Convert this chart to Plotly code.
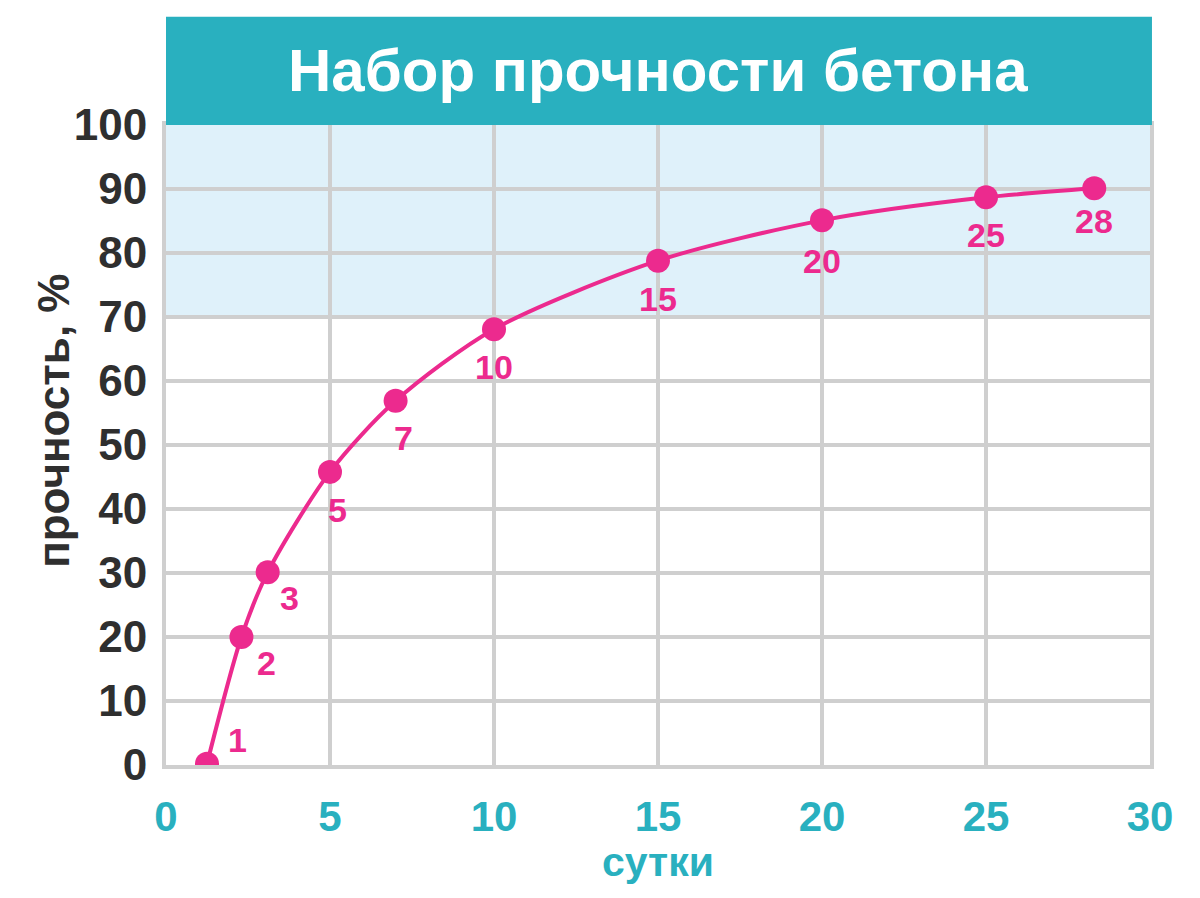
import plotly.graph_objects as go

# points (position on the day axis, strength %)
days_x = [1.25, 2.3, 3.1, 5.0, 7.0, 10.0, 15.0, 20.0, 25.0, 28.3]
strength = [0.2, 20.0, 30.1, 45.8, 56.9, 68.1, 78.8, 85.1, 88.7, 90.1]
day_labels = ['1', '2', '3', '5', '7', '10', '15', '20', '25', '28']

x_ticks = [0, 5, 10, 15, 20, 25, 30]
y_ticks = [0, 10, 20, 30, 40, 50, 60, 70, 80, 90, 100]

title_text = 'Набор прочности бетона'
x_title = 'сутки'
y_title = 'прочность, %'

# label offsets in px (x, y)
lab_shift = [(30, 24), (25, -26), (22, -26), (7, -38), (8, -37),
             (0, -38), (0, -38), (0, -41), (0, -38), (0, -33)]

teal = '#29b0bf'
pink = '#ec2a8e'
grid = '#cfcfcf'
dark = '#2f2f2f'
font = 'Liberation Sans, Arial, sans-serif'

fig = go.Figure()
fig.add_trace(go.Scatter(x=days_x, y=strength, mode='lines+markers',
                         line=dict(color=pink, width=4, shape='spline', smoothing=0.8),
                         marker=dict(color=pink, size=24),
                         showlegend=False, hoverinfo='skip'))

# light blue band 70..100
fig.add_shape(type='rect', xref='paper', yref='y', x0=0, x1=1, y0=70, y1=100,
              fillcolor='#dff1fa', line_width=0, layer='below')
# title bar
fig.add_shape(type='rect', xref='paper', yref='paper', x0=0, x1=1.002, y0=1.0, y1=1.169,
              fillcolor=teal, line_width=0, layer='above')

anns = []
anns.append(dict(text='<b>' + title_text + '</b>', xref='paper', yref='paper',
                 x=0.5, y=1.0845, showarrow=False, xanchor='center', yanchor='middle',
                 font=dict(family=font, size=60, color='white')))
for i in range(len(days_x)):
    anns.append(dict(text='<b>' + day_labels[i] + '</b>', x=days_x[i], y=strength[i],
                     showarrow=False, xshift=lab_shift[i][0], yshift=lab_shift[i][1],
                     font=dict(family=font, size=34, color=pink)))
anns.append(dict(text='<b>' + x_title + '</b>', xref='paper', yref='paper',
                 x=0.5, y=-0.152, showarrow=False, yanchor='middle',
                 font=dict(family=font, size=41, color=teal)))
anns.append(dict(text='<b>' + y_title + '</b>', xref='paper', yref='paper',
                 x=-0.115, y=0.5375, showarrow=False, textangle=-90,
                 xanchor='center', yanchor='middle',
                 font=dict(family=font, size=44, color=dark)))

fig.update_layout(
    width=1200, height=898,
    margin=dict(l=158, r=58, t=117, b=141),
    paper_bgcolor='white', plot_bgcolor='white',
    annotations=anns,
    xaxis=dict(range=[0, 30], tickvals=x_ticks, showgrid=True, gridcolor=grid, gridwidth=4,
               zeroline=False, showline=True, mirror=True, linecolor=grid, linewidth=4,
               ticklabelstandoff=12,
               tickfont=dict(family=font, size=42, color=teal, weight='bold')),
    yaxis=dict(range=[0, 100], tickvals=y_ticks, showgrid=True, gridcolor=grid, gridwidth=4,
               zeroline=False, showline=True, mirror=True, linecolor=grid, linewidth=4,
               ticklabelstandoff=6,
               tickfont=dict(family=font, size=44, color=dark, weight='bold')),
)

fig.write_html('out.html')
